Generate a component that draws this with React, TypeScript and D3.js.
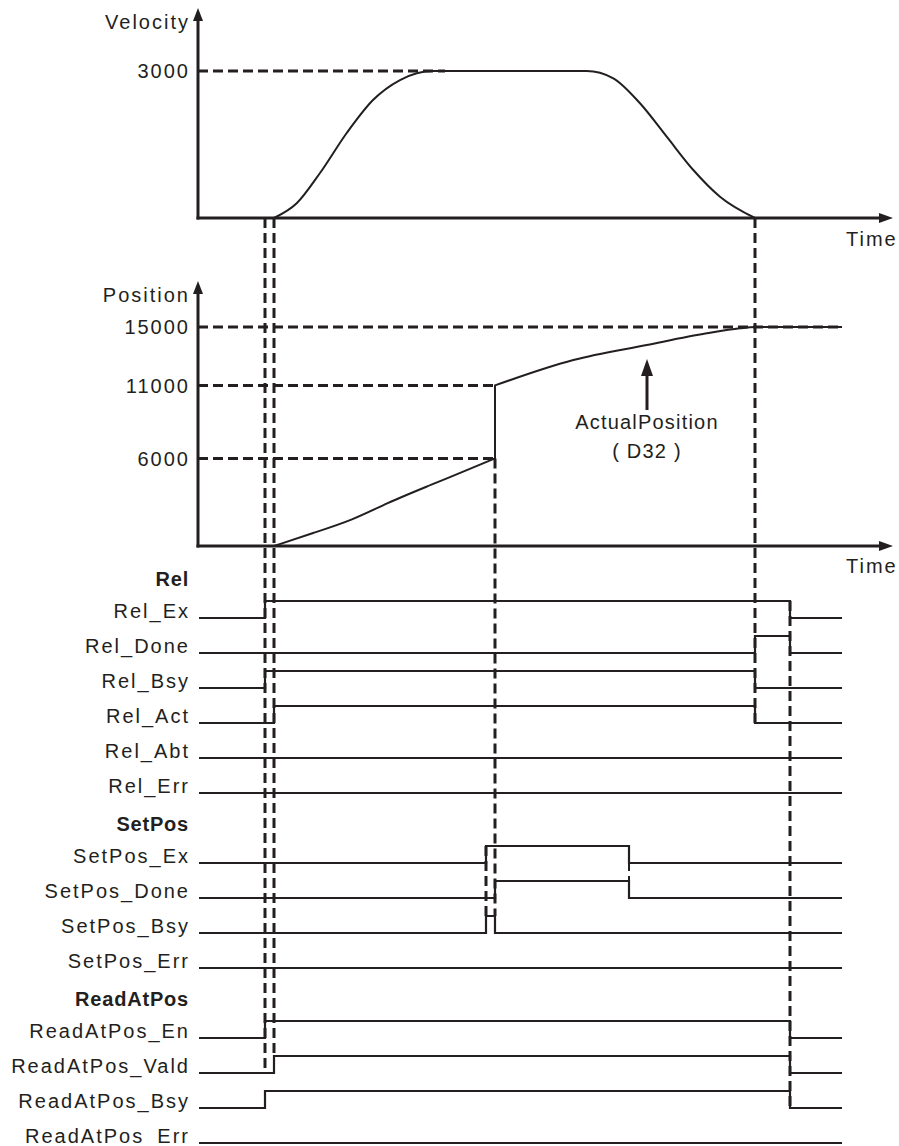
import React from "react";
import * as d3 from "d3";

// ---- data ----
const velTimes = [76, 98.7, 122, 148.7, 175, 202, 235, 388.7, 415.3, 442, 468.7, 495.3, 522, 557];
const velValues = [0, 300, 918, 1735, 2408, 2816, 3000, 3000, 2851, 2341, 1659, 980, 435, 0];

const posTimesA = [76, 115, 155, 188.7, 228.7, 297];
const posValuesA = [0, 890, 1781, 2945, 4062, 6000];
const posTimesB = [297, 375.3, 448.7, 508.7, 542, 557, 644];
const posValuesB = [11000, 12740, 13767, 14568, 14911, 15000, 15000];

const velTicks = [3000];
const posTicks = [15000, 11000, 6000];
const posTickLabels = ["15000", "11000", "6000"];

const rowNames = [
  "Rel", "Rel_Ex", "Rel_Done", "Rel_Bsy", "Rel_Act", "Rel_Abt", "Rel_Err",
  "SetPos", "SetPos_Ex", "SetPos_Done", "SetPos_Bsy", "SetPos_Err",
  "ReadAtPos", "ReadAtPos_En", "ReadAtPos_Vald", "ReadAtPos_Bsy", "ReadAtPos_Err",
];
const headerRows = ["Rel", "SetPos", "ReadAtPos"];
const signalToggles: Record<string, number[]> = {
  Rel_Ex: [67, 592],
  Rel_Done: [557, 592],
  Rel_Bsy: [67, 557],
  Rel_Act: [76, 557],
  Rel_Abt: [],
  Rel_Err: [],
  SetPos_Ex: [288, 431],
  SetPos_Done: [297, 431],
  SetPos_Bsy: [288, 297],
  SetPos_Err: [],
  ReadAtPos_En: [67, 592],
  ReadAtPos_Vald: [76, 592],
  ReadAtPos_Bsy: [67, 592],
  ReadAtPos_Err: [],
};
const signalEnd = 644;
const axisEnd = 695;

const C = "#231f20";
const FONT = "Arial, 'Liberation Sans', sans-serif";

export default function App() {
  const tx = d3.scaleLinear().domain([0, 700]).range([198, 898]);
  const vy = d3.scaleLinear().domain([0, 3000]).range([218, 71]);
  const py = d3.scaleLinear().domain([0, 15000]).range([546, 327]);
  const ry = d3.scalePoint<string>().domain(rowNames).range([583, 1143]);
  const HI = 17;

  const velLine = d3
    .line<number>()
    .x((_, i) => tx(velTimes[i]))
    .y((d) => vy(d))
    .curve(d3.curveMonotoneX);
  const posLineA = d3
    .line<number>()
    .x((_, i) => tx(posTimesA[i]))
    .y((d) => py(d))
    .curve(d3.curveBasis);
  const posLineB = d3
    .line<number>()
    .x((_, i) => tx(posTimesB[i]))
    .y((d) => py(d))
    .curve(d3.curveMonotoneX);
  const posPath = (posLineA(posValuesA) || "") + (posLineB(posValuesB) || "").replace(/^M/, "L");

  const signalPath = (name: string) => {
    const base = ry(name)!;
    let high = false;
    let d = `M${tx(0) + 1},${base}`;
    for (const t of signalToggles[name]) {
      high = !high;
      d += `H${tx(t)}V${high ? base - HI : base}`;
    }
    d += `H${tx(signalEnd)}`;
    return d;
  };

  const dash = { stroke: C, strokeWidth: 3, strokeDasharray: "10 5", fill: "none" } as const;

  const yArrow = (x: number, tip: number) => `M${x},${tip}L${x - 5},${tip + 13}L${x + 5},${tip + 13}Z`;
  const xArrow = (y: number, tip: number) => `M${tip},${y}L${tip - 14},${y - 5}L${tip - 14},${y + 5}Z`;

  const vlines: [number, number, number, number?][] = [
    [67, vy(0), ry("ReadAtPos_Vald")!],
    [76, vy(0), ry("ReadAtPos_Vald")! - HI],
    [297, py(6000), ry("SetPos_Bsy")! - HI],
    [288, ry("SetPos_Ex")! - HI, ry("SetPos_Bsy")! - HI],
    [431, ry("SetPos_Ex")! - HI, ry("SetPos_Done")!, 2],
    [557, vy(0), ry("Rel_Act")!],
    [592, ry("Rel_Ex")! - HI, ry("ReadAtPos_Bsy")!],
  ];

  const textStyle = { fontFamily: FONT, fontSize: 20, letterSpacing: 2, fill: C } as const;

  return (
    <svg
      width={899}
      height={1146}
      style={{ position: "absolute", left: 0, top: 0, display: "block", background: "#fff" }}
    >
      <rect width={899} height={1146} fill="#fff" />
      {/* Velocity chart */}
      <path d={velLine(velValues) || ""} fill="none" stroke={C} strokeWidth={2} />
      {velTicks.map((v) => (
        <g key={v}>
          <line x1={tx(0)} x2={tx(247)} y1={vy(v)} y2={vy(v)} style={dash} />
          <text x={190} y={vy(v)} dy="0.36em" textAnchor="end" {...textStyle}>
            {v}
          </text>
        </g>
      ))}
      <line x1={tx(0)} x2={tx(0)} y1={vy(0) + 1.5} y2={18} stroke={C} strokeWidth={3} />
      <path d={yArrow(tx(0), 8)} fill={C} />
      <line x1={tx(0) - 1.5} x2={tx(axisEnd) - 10} y1={vy(0)} y2={vy(0)} stroke={C} strokeWidth={3} />
      <path d={xArrow(vy(0), tx(axisEnd))} fill={C} />
      <text x={190} y={29} textAnchor="end" {...textStyle}>Velocity</text>
      <text x={846} y={vy(0) + 28} {...textStyle}>Time</text>

      {/* Position chart */}
      {posTicks.map((v, i) => (
        <g key={v}>
          <line x1={tx(0)} x2={v === 15000 ? tx(signalEnd) : tx(297)} y1={py(v)} y2={py(v)} style={dash} />
          <text x={190} y={py(v)} dy="0.36em" textAnchor="end" {...textStyle}>
            {posTickLabels[i]}
          </text>
        </g>
      ))}
      <path d={posPath} fill="none" stroke={C} strokeWidth={2} />
      <line x1={tx(0)} x2={tx(0)} y1={py(0) + 1.5} y2={291} stroke={C} strokeWidth={3} />
      <path d={yArrow(tx(0), 281)} fill={C} />
      <line x1={tx(0) - 1.5} x2={tx(axisEnd) - 10} y1={py(0)} y2={py(0)} stroke={C} strokeWidth={3} />
      <path d={xArrow(py(0), tx(axisEnd))} fill={C} />
      <text x={190} y={302} textAnchor="end" {...textStyle}>Position</text>
      <text x={846} y={py(0) + 27} {...textStyle}>Time</text>

      {/* ActualPosition annotation */}
      <line x1={tx(449)} x2={tx(449)} y1={410} y2={372} stroke={C} strokeWidth={3} />
      <path d={`M${tx(449)},359L${tx(449) - 6},376L${tx(449) + 6},376Z`} fill={C} />
      <text x={tx(449)} y={429} textAnchor="middle" {...textStyle} letterSpacing={1.2}>ActualPosition</text>
      <text x={tx(449)} y={458} textAnchor="middle" {...textStyle} letterSpacing={1.2}>( D32 )</text>

      {/* Signals */}
      {rowNames.map((name) =>
        headerRows.includes(name) ? (
          <text key={name} x={189} y={ry(name)! + 3} textAnchor="end" {...textStyle} fontWeight="bold" letterSpacing={0.8}>
            {name}
          </text>
        ) : (
          <g key={name}>
            <text x={190} y={ry(name)!} textAnchor="end" {...textStyle}>
              {name}
            </text>
            <path d={signalPath(name)} fill="none" stroke={C} strokeWidth={2.2} />
          </g>
        )
      )}

      {/* Vertical dashed guides */}
      {vlines.map(([t, y1, y2, w], i) => (
        <line key={i} x1={tx(t)} x2={tx(t)} y1={y1} y2={y2} style={{ ...dash, strokeWidth: w || 3 }} />
      ))}
    </svg>
  );
}
